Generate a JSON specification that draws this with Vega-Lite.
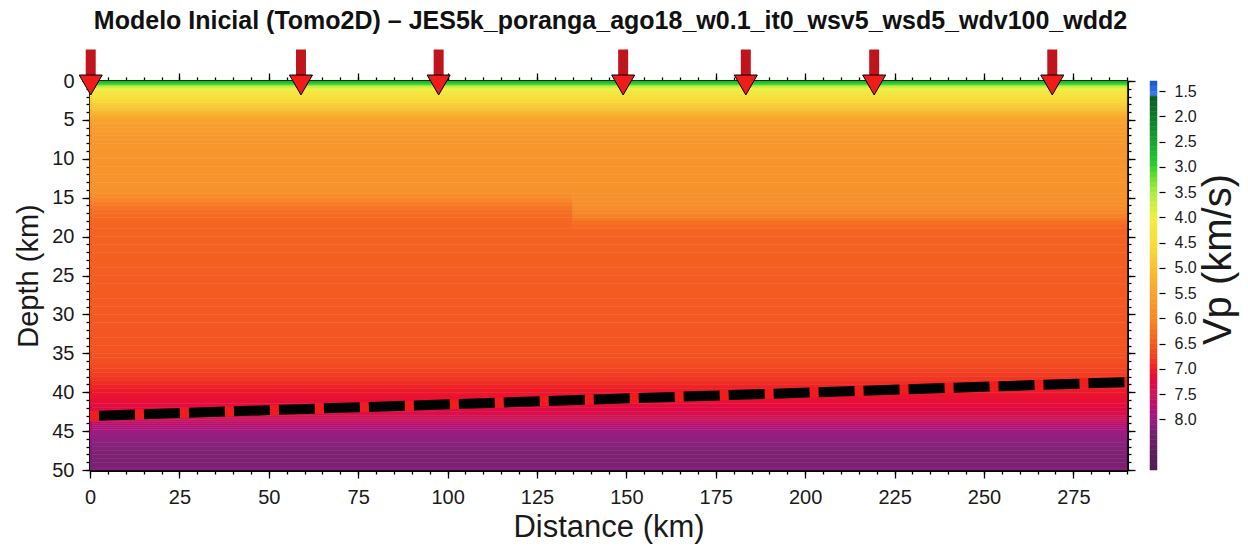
{
  "$schema": "https://vega.github.io/schema/vega-lite/v6.json",
  "padding": {"left": 14, "top": 8, "right": 5, "bottom": 5},
  "background": "white",
  "title": {
    "text": "Modelo Inicial (Tomo2D) – JES5k_poranga_ago18_w0.1_it0_wsv5_wsd5_wdv100_wdd2",
    "fontSize": 25,
    "fontWeight": "bold",
    "anchor": "middle",
    "frame": "bounds",
    "baseline": "alphabetic",
    "offset": -4,
    "dx": -16,
    "color": "#111111"
  },
  "config": {
    "font": "Liberation Sans",
    "view": {"stroke": null},
    "axis": {
      "grid": false,
      "zindex": 0,
      "domainColor": "black",
      "domainWidth": 3,
      "tickColor": "black",
      "tickWidth": 1.3,
      "labelColor": "#1a1a1a",
      "titleColor": "#1a1a1a",
      "titleFontWeight": "normal",
      "labelFlush": false,
      "labelOverlap": false,
      "labelBound": false
    }
  },
  "datasets": {
    "model": [
      {"x0": 0, "x1": 290, "z0": 0, "z1": 0.25, "vp": 2.7},
      {"x0": 0, "x1": 290, "z0": 0.25, "z1": 0.5, "vp": 3.0},
      {"x0": 0, "x1": 290, "z0": 0.5, "z1": 0.75, "vp": 3.4},
      {"x0": 0, "x1": 290, "z0": 0.75, "z1": 1, "vp": 3.8},
      {"x0": 0, "x1": 290, "z0": 1, "z1": 1.25, "vp": 4.05},
      {"x0": 0, "x1": 290, "z0": 1.25, "z1": 1.5, "vp": 4.2},
      {"x0": 0, "x1": 290, "z0": 1.5, "z1": 1.75, "vp": 4.3},
      {"x0": 0, "x1": 290, "z0": 1.75, "z1": 2, "vp": 4.38},
      {"x0": 0, "x1": 290, "z0": 2, "z1": 2.25, "vp": 4.46},
      {"x0": 0, "x1": 290, "z0": 2.25, "z1": 2.5, "vp": 4.53},
      {"x0": 0, "x1": 290, "z0": 2.5, "z1": 2.75, "vp": 4.61},
      {"x0": 0, "x1": 290, "z0": 2.75, "z1": 3, "vp": 4.7},
      {"x0": 0, "x1": 290, "z0": 3, "z1": 3.25, "vp": 4.8},
      {"x0": 0, "x1": 290, "z0": 3.25, "z1": 3.5, "vp": 4.9},
      {"x0": 0, "x1": 290, "z0": 3.5, "z1": 3.75, "vp": 5.0},
      {"x0": 0, "x1": 290, "z0": 3.75, "z1": 4, "vp": 5.1},
      {"x0": 0, "x1": 290, "z0": 4, "z1": 4.25, "vp": 5.2},
      {"x0": 0, "x1": 290, "z0": 4.25, "z1": 4.5, "vp": 5.28},
      {"x0": 0, "x1": 290, "z0": 4.5, "z1": 4.75, "vp": 5.36},
      {"x0": 0, "x1": 290, "z0": 4.75, "z1": 5, "vp": 5.43},
      {"x0": 0, "x1": 290, "z0": 5, "z1": 5.5, "vp": 5.5},
      {"x0": 0, "x1": 290, "z0": 5.5, "z1": 6, "vp": 5.56},
      {"x0": 0, "x1": 290, "z0": 6, "z1": 6.5, "vp": 5.61},
      {"x0": 0, "x1": 290, "z0": 6.5, "z1": 7, "vp": 5.65},
      {"x0": 0, "x1": 290, "z0": 7, "z1": 7.5, "vp": 5.68},
      {"x0": 0, "x1": 290, "z0": 7.5, "z1": 8, "vp": 5.7},
      {"x0": 0, "x1": 290, "z0": 8, "z1": 9, "vp": 5.72},
      {"x0": 0, "x1": 290, "z0": 9, "z1": 10, "vp": 5.74},
      {"x0": 0, "x1": 290, "z0": 10, "z1": 11, "vp": 5.76},
      {"x0": 0, "x1": 290, "z0": 11, "z1": 12, "vp": 5.77},
      {"x0": 0, "x1": 290, "z0": 12, "z1": 13, "vp": 5.78},
      {"x0": 0, "x1": 290, "z0": 13, "z1": 14, "vp": 5.8},
      {"x0": 0, "x1": 135, "z0": 14, "z1": 14.5, "vp": 5.84},
      {"x0": 135, "x1": 290, "z0": 14, "z1": 14.5, "vp": 5.82},
      {"x0": 0, "x1": 135, "z0": 14.5, "z1": 15, "vp": 5.9},
      {"x0": 135, "x1": 290, "z0": 14.5, "z1": 15, "vp": 5.83},
      {"x0": 0, "x1": 135, "z0": 15, "z1": 15.5, "vp": 6.0},
      {"x0": 135, "x1": 290, "z0": 15, "z1": 15.5, "vp": 5.85},
      {"x0": 0, "x1": 135, "z0": 15.5, "z1": 16, "vp": 6.12},
      {"x0": 135, "x1": 290, "z0": 15.5, "z1": 16, "vp": 5.87},
      {"x0": 0, "x1": 135, "z0": 16, "z1": 16.5, "vp": 6.22},
      {"x0": 135, "x1": 290, "z0": 16, "z1": 16.5, "vp": 5.9},
      {"x0": 0, "x1": 135, "z0": 16.5, "z1": 17, "vp": 6.29},
      {"x0": 135, "x1": 290, "z0": 16.5, "z1": 17, "vp": 5.96},
      {"x0": 0, "x1": 135, "z0": 17, "z1": 17.5, "vp": 6.33},
      {"x0": 135, "x1": 290, "z0": 17, "z1": 17.5, "vp": 6.06},
      {"x0": 0, "x1": 135, "z0": 17.5, "z1": 18, "vp": 6.36},
      {"x0": 135, "x1": 290, "z0": 17.5, "z1": 18, "vp": 6.18},
      {"x0": 0, "x1": 135, "z0": 18, "z1": 18.5, "vp": 6.38},
      {"x0": 135, "x1": 290, "z0": 18, "z1": 18.5, "vp": 6.28},
      {"x0": 0, "x1": 135, "z0": 18.5, "z1": 19, "vp": 6.4},
      {"x0": 135, "x1": 290, "z0": 18.5, "z1": 19, "vp": 6.35},
      {"x0": 0, "x1": 290, "z0": 19, "z1": 20, "vp": 6.41},
      {"x0": 0, "x1": 290, "z0": 20, "z1": 21, "vp": 6.42},
      {"x0": 0, "x1": 290, "z0": 21, "z1": 22, "vp": 6.43},
      {"x0": 0, "x1": 290, "z0": 22, "z1": 23, "vp": 6.44},
      {"x0": 0, "x1": 290, "z0": 23, "z1": 24, "vp": 6.45},
      {"x0": 0, "x1": 290, "z0": 24, "z1": 25, "vp": 6.46},
      {"x0": 0, "x1": 290, "z0": 25, "z1": 26, "vp": 6.47},
      {"x0": 0, "x1": 290, "z0": 26, "z1": 27, "vp": 6.48},
      {"x0": 0, "x1": 290, "z0": 27, "z1": 28, "vp": 6.49},
      {"x0": 0, "x1": 290, "z0": 28, "z1": 29, "vp": 6.5},
      {"x0": 0, "x1": 290, "z0": 29, "z1": 30, "vp": 6.51},
      {"x0": 0, "x1": 290, "z0": 30, "z1": 31, "vp": 6.52},
      {"x0": 0, "x1": 290, "z0": 31, "z1": 32, "vp": 6.53},
      {"x0": 0, "x1": 290, "z0": 32, "z1": 33, "vp": 6.54},
      {"x0": 0, "x1": 290, "z0": 33, "z1": 34, "vp": 6.55},
      {"x0": 0, "x1": 290, "z0": 34, "z1": 35, "vp": 6.57},
      {"x0": 0, "x1": 290, "z0": 35, "z1": 35.5, "vp": 6.59},
      {"x0": 0, "x1": 290, "z0": 35.5, "z1": 36, "vp": 6.61},
      {"x0": 0, "x1": 290, "z0": 36, "z1": 36.5, "vp": 6.64},
      {"x0": 0, "x1": 290, "z0": 36.5, "z1": 37, "vp": 6.68},
      {"x0": 0, "x1": 290, "z0": 37, "z1": 37.5, "vp": 6.73},
      {"x0": 0, "x1": 290, "z0": 37.5, "z1": 38, "vp": 6.79},
      {"x0": 0, "x1": 290, "z0": 38, "z1": 38.5, "vp": 6.85},
      {"x0": 0, "x1": 290, "z0": 38.5, "z1": 39, "vp": 6.91},
      {"x0": 0, "x1": 290, "z0": 39, "z1": 39.5, "vp": 6.97},
      {"x0": 0, "x1": 290, "z0": 39.5, "z1": 40, "vp": 7.02},
      {"x0": 0, "x1": 290, "z0": 40, "z1": 40.5, "vp": 7.07},
      {"x0": 0, "x1": 290, "z0": 40.5, "z1": 41, "vp": 7.11},
      {"x0": 0, "x1": 290, "z0": 41, "z1": 41.5, "vp": 7.15},
      {"x0": 0, "x1": 290, "z0": 41.5, "z1": 42, "vp": 7.2},
      {"x0": 0, "x1": 290, "z0": 42, "z1": 42.5, "vp": 7.27},
      {"x0": 0, "x1": 290, "z0": 42.5, "z1": 43, "vp": 7.35},
      {"x0": 0, "x1": 290, "z0": 43, "z1": 43.25, "vp": 7.42},
      {"x0": 0, "x1": 290, "z0": 43.25, "z1": 43.5, "vp": 7.49},
      {"x0": 0, "x1": 290, "z0": 43.5, "z1": 43.75, "vp": 7.56},
      {"x0": 0, "x1": 290, "z0": 43.75, "z1": 44, "vp": 7.63},
      {"x0": 0, "x1": 290, "z0": 44, "z1": 44.25, "vp": 7.7},
      {"x0": 0, "x1": 290, "z0": 44.25, "z1": 44.5, "vp": 7.77},
      {"x0": 0, "x1": 290, "z0": 44.5, "z1": 44.75, "vp": 7.83},
      {"x0": 0, "x1": 290, "z0": 44.75, "z1": 45, "vp": 7.88},
      {"x0": 0, "x1": 290, "z0": 45, "z1": 45.25, "vp": 7.93},
      {"x0": 0, "x1": 290, "z0": 45.25, "z1": 45.5, "vp": 7.97},
      {"x0": 0, "x1": 290, "z0": 45.5, "z1": 45.75, "vp": 8.01},
      {"x0": 0, "x1": 290, "z0": 45.75, "z1": 46, "vp": 8.04},
      {"x0": 0, "x1": 290, "z0": 46, "z1": 46.5, "vp": 8.08},
      {"x0": 0, "x1": 290, "z0": 46.5, "z1": 47, "vp": 8.13},
      {"x0": 0, "x1": 290, "z0": 47, "z1": 47.5, "vp": 8.17},
      {"x0": 0, "x1": 290, "z0": 47.5, "z1": 48, "vp": 8.21},
      {"x0": 0, "x1": 290, "z0": 48, "z1": 48.5, "vp": 8.24},
      {"x0": 0, "x1": 290, "z0": 48.5, "z1": 49, "vp": 8.26},
      {"x0": 0, "x1": 290, "z0": 49, "z1": 49.6, "vp": 8.28},
      {"x0": 0, "x1": 290, "z0": 49.6, "z1": 50, "vp": 8.15}
    ],
    "moho": [
      {"x": 0, "z": 43.06},
      {"x": 290, "z": 38.7}
    ],
    "stations": [
      {"x": 0.2, "z": 0},
      {"x": 59.0, "z": 0},
      {"x": 97.5, "z": 0},
      {"x": 149.1, "z": 0},
      {"x": 183.4, "z": 0},
      {"x": 219.3, "z": 0},
      {"x": 269.1, "z": 0}
    ],
    "palette": [
      {"v0": 1.3, "v1": 1.4, "vp": 1.35}, {"v0": 1.4, "v1": 1.5, "vp": 1.45},
      {"v0": 1.5, "v1": 1.6, "vp": 1.55}, {"v0": 1.6, "v1": 1.7, "vp": 1.65},
      {"v0": 1.7, "v1": 1.8, "vp": 1.75}, {"v0": 1.8, "v1": 1.9, "vp": 1.85},
      {"v0": 1.9, "v1": 2.0, "vp": 1.95}, {"v0": 2.0, "v1": 2.1, "vp": 2.05},
      {"v0": 2.1, "v1": 2.2, "vp": 2.15}, {"v0": 2.2, "v1": 2.3, "vp": 2.25},
      {"v0": 2.3, "v1": 2.4, "vp": 2.35}, {"v0": 2.4, "v1": 2.5, "vp": 2.45},
      {"v0": 2.5, "v1": 2.6, "vp": 2.55}, {"v0": 2.6, "v1": 2.7, "vp": 2.65},
      {"v0": 2.7, "v1": 2.8, "vp": 2.75}, {"v0": 2.8, "v1": 2.9, "vp": 2.85},
      {"v0": 2.9, "v1": 3.0, "vp": 2.95}, {"v0": 3.0, "v1": 3.1, "vp": 3.05},
      {"v0": 3.1, "v1": 3.2, "vp": 3.15}, {"v0": 3.2, "v1": 3.3, "vp": 3.25},
      {"v0": 3.3, "v1": 3.4, "vp": 3.35}, {"v0": 3.4, "v1": 3.5, "vp": 3.45},
      {"v0": 3.5, "v1": 3.6, "vp": 3.55}, {"v0": 3.6, "v1": 3.7, "vp": 3.65},
      {"v0": 3.7, "v1": 3.8, "vp": 3.75}, {"v0": 3.8, "v1": 3.9, "vp": 3.85},
      {"v0": 3.9, "v1": 4.0, "vp": 3.95}, {"v0": 4.0, "v1": 4.1, "vp": 4.05},
      {"v0": 4.1, "v1": 4.2, "vp": 4.15}, {"v0": 4.2, "v1": 4.3, "vp": 4.25},
      {"v0": 4.3, "v1": 4.4, "vp": 4.35}, {"v0": 4.4, "v1": 4.5, "vp": 4.45},
      {"v0": 4.5, "v1": 4.6, "vp": 4.55}, {"v0": 4.6, "v1": 4.7, "vp": 4.65},
      {"v0": 4.7, "v1": 4.8, "vp": 4.75}, {"v0": 4.8, "v1": 4.9, "vp": 4.85},
      {"v0": 4.9, "v1": 5.0, "vp": 4.95}, {"v0": 5.0, "v1": 5.1, "vp": 5.05},
      {"v0": 5.1, "v1": 5.2, "vp": 5.15}, {"v0": 5.2, "v1": 5.3, "vp": 5.25},
      {"v0": 5.3, "v1": 5.4, "vp": 5.35}, {"v0": 5.4, "v1": 5.5, "vp": 5.45},
      {"v0": 5.5, "v1": 5.6, "vp": 5.55}, {"v0": 5.6, "v1": 5.7, "vp": 5.65},
      {"v0": 5.7, "v1": 5.8, "vp": 5.75}, {"v0": 5.8, "v1": 5.9, "vp": 5.85},
      {"v0": 5.9, "v1": 6.0, "vp": 5.95}, {"v0": 6.0, "v1": 6.1, "vp": 6.05},
      {"v0": 6.1, "v1": 6.2, "vp": 6.15}, {"v0": 6.2, "v1": 6.3, "vp": 6.25},
      {"v0": 6.3, "v1": 6.4, "vp": 6.35}, {"v0": 6.4, "v1": 6.5, "vp": 6.45},
      {"v0": 6.5, "v1": 6.6, "vp": 6.55}, {"v0": 6.6, "v1": 6.7, "vp": 6.65},
      {"v0": 6.7, "v1": 6.8, "vp": 6.75}, {"v0": 6.8, "v1": 6.9, "vp": 6.85},
      {"v0": 6.9, "v1": 7.0, "vp": 6.95}, {"v0": 7.0, "v1": 7.1, "vp": 7.05},
      {"v0": 7.1, "v1": 7.2, "vp": 7.15}, {"v0": 7.2, "v1": 7.3, "vp": 7.25},
      {"v0": 7.3, "v1": 7.4, "vp": 7.35}, {"v0": 7.4, "v1": 7.5, "vp": 7.45},
      {"v0": 7.5, "v1": 7.6, "vp": 7.55}, {"v0": 7.6, "v1": 7.7, "vp": 7.65},
      {"v0": 7.7, "v1": 7.8, "vp": 7.75}, {"v0": 7.8, "v1": 7.9, "vp": 7.85},
      {"v0": 7.9, "v1": 8.0, "vp": 7.95}, {"v0": 8.0, "v1": 8.1, "vp": 8.05},
      {"v0": 8.1, "v1": 8.2, "vp": 8.15}, {"v0": 8.2, "v1": 8.3, "vp": 8.25},
      {"v0": 8.3, "v1": 8.4, "vp": 8.35}, {"v0": 8.4, "v1": 8.5, "vp": 8.45},
      {"v0": 8.5, "v1": 8.6, "vp": 8.55}, {"v0": 8.6, "v1": 8.7, "vp": 8.65},
      {"v0": 8.7, "v1": 8.8, "vp": 8.75}, {"v0": 8.8, "v1": 8.9, "vp": 8.85},
      {"v0": 8.9, "v1": 9.0, "vp": 8.95}
    ]
  },
  "hconcat": [
    {
      "width": 1037,
      "height": 389,
      "layer": [
        {
          "data": {"name": "model"},
          "mark": {"type": "rect", "strokeWidth": 0.5},
          "encoding": {
            "x": {
              "field": "x0", "type": "quantitative",
              "scale": {"domain": [0, 290], "nice": false, "zero": false},
              "axis": {
                "orient": "bottom",
                "values": [0, 25, 50, 75, 100, 125, 150, 175, 200, 225, 250, 275],
                "tickSize": 8, "labelFontSize": 20, "labelPadding": 9,
                "title": "Distance (km)", "titleFontSize": 31, "titlePadding": 5
              }
            },
            "x2": {"field": "x1"},
            "y": {
              "field": "z0", "type": "quantitative",
              "scale": {"domain": [0, 50], "reverse": true, "nice": false, "zero": false},
              "axis": {
                "orient": "left",
                "values": [0, 5, 10, 15, 20, 25, 30, 35, 40, 45, 50],
                "tickSize": 8, "labelFontSize": 20, "labelPadding": 8,
                "title": "Depth (km)", "titleFontSize": 29, "titlePadding": 8
              }
            },
            "y2": {"field": "z1"},
            "color": {
              "field": "vp", "type": "quantitative",
              "scale": {
                "domain": [9.0, 8.5, 8.0, 7.5, 7.0, 6.5, 6.0, 5.5, 5.0, 4.5, 4.0, 3.5, 3.0, 2.5, 2.0, 1.65, 1.55, 1.2],
                "range": ["#4e1e50", "#642060", "#962084", "#cc1a5a", "#ee1d24", "#f45a22", "#f6882a", "#f8a32f", "#f8c234", "#f6de3a", "#f0f040", "#a8ec48", "#2dd22d", "#1aa232", "#0f7a2c", "#0b5e26", "#3a7ae0", "#1a3fd0"],
                "nice": false, "zero": false
              },
              "legend": null
            },
            "stroke": {
              "field": "vp", "type": "quantitative",
              "scale": {
                "domain": [9.0, 8.5, 8.0, 7.5, 7.0, 6.5, 6.0, 5.5, 5.0, 4.5, 4.0, 3.5, 3.0, 2.5, 2.0, 1.65, 1.55, 1.2],
                "range": ["#4e1e50", "#642060", "#962084", "#cc1a5a", "#ee1d24", "#f45a22", "#f6882a", "#f8a32f", "#f8c234", "#f6de3a", "#f0f040", "#a8ec48", "#2dd22d", "#1aa232", "#0f7a2c", "#0b5e26", "#3a7ae0", "#1a3fd0"],
                "nice": false, "zero": false
              },
              "legend": null
            }
          }
        },
        {
          "data": {"name": "moho"},
          "mark": {"type": "line", "color": "#f21c1c", "strokeWidth": 10, "strokeCap": "butt"},
          "encoding": {
            "x": {
              "field": "x", "type": "quantitative",
              "scale": {"domain": [0, 290], "nice": false, "zero": false},
              "axis": {
                "orient": "bottom",
                "values": [0, 5, 10, 15, 20, 25, 30, 35, 40, 45, 50, 55, 60, 65, 70, 75, 80, 85, 90, 95, 100, 105, 110, 115, 120, 125, 130, 135, 140, 145, 150, 155, 160, 165, 170, 175, 180, 185, 190, 195, 200, 205, 210, 215, 220, 225, 230, 235, 240, 245, 250, 255, 260, 265, 270, 275, 280, 285, 290],
                "tickSize": 4, "labels": false, "domain": false, "title": null
              }
            },
            "y": {
              "field": "z", "type": "quantitative",
              "scale": {"domain": [0, 50], "reverse": true, "nice": false, "zero": false},
              "axis": {
                "orient": "left",
                "values": [0, 1, 2, 3, 4, 5, 6, 7, 8, 9, 10, 11, 12, 13, 14, 15, 16, 17, 18, 19, 20, 21, 22, 23, 24, 25, 26, 27, 28, 29, 30, 31, 32, 33, 34, 35, 36, 37, 38, 39, 40, 41, 42, 43, 44, 45, 46, 47, 48, 49, 50],
                "tickSize": 4, "labels": false, "domain": false, "title": null
              }
            }
          }
        },
        {
          "data": {"name": "moho"},
          "mark": {"type": "line", "color": "black", "strokeWidth": 10, "strokeCap": "butt", "strokeDash": [36, 9], "strokeDashOffset": 36},
          "encoding": {
            "x": {
              "field": "x", "type": "quantitative",
              "scale": {"domain": [0, 290], "nice": false, "zero": false},
              "axis": {
                "orient": "top",
                "values": [0, 25, 50, 75, 100, 125, 150, 175, 200, 225, 250, 275],
                "tickSize": 8, "labels": false, "domain": true, "title": null
              }
            },
            "y": {
              "field": "z", "type": "quantitative",
              "scale": {"domain": [0, 50], "reverse": true, "nice": false, "zero": false},
              "axis": {
                "orient": "right",
                "values": [0, 5, 10, 15, 20, 25, 30, 35, 40, 45, 50],
                "tickSize": 8, "labels": false, "domain": true, "title": null
              }
            }
          }
        },
        {
          "data": {"name": "stations"},
          "mark": {"type": "point", "filled": true, "opacity": 1, "color": "#c0151d", "shape": "M-0.185,-0.5L0.185,-0.5L0.185,0.5L-0.185,0.5Z", "size": 2916, "yOffset": -18},
          "encoding": {
            "x": {
              "field": "x", "type": "quantitative",
              "scale": {"domain": [0, 290], "nice": false, "zero": false},
              "axis": {
                "orient": "top",
                "values": [0, 5, 10, 15, 20, 25, 30, 35, 40, 45, 50, 55, 60, 65, 70, 75, 80, 85, 90, 95, 100, 105, 110, 115, 120, 125, 130, 135, 140, 145, 150, 155, 160, 165, 170, 175, 180, 185, 190, 195, 200, 205, 210, 215, 220, 225, 230, 235, 240, 245, 250, 255, 260, 265, 270, 275, 280, 285, 290],
                "tickSize": 4, "labels": false, "domain": false, "title": null
              }
            },
            "y": {
              "field": "z", "type": "quantitative",
              "scale": {"domain": [0, 50], "reverse": true, "nice": false, "zero": false},
              "axis": {
                "orient": "right",
                "values": [0, 1, 2, 3, 4, 5, 6, 7, 8, 9, 10, 11, 12, 13, 14, 15, 16, 17, 18, 19, 20, 21, 22, 23, 24, 25, 26, 27, 28, 29, 30, 31, 32, 33, 34, 35, 36, 37, 38, 39, 40, 41, 42, 43, 44, 45, 46, 47, 48, 49, 50],
                "tickSize": 4, "labels": false, "domain": false, "title": null
              }
            }
          }
        },
        {
          "data": {"name": "stations"},
          "mark": {"type": "point", "filled": true, "opacity": 1, "fill": "#f01c1c", "stroke": "black", "strokeWidth": 1, "shape": "triangle-down", "size": 530, "yOffset": 4},
          "encoding": {
            "x": {
              "field": "x", "type": "quantitative",
              "scale": {"domain": [0, 290], "nice": false, "zero": false},
              "axis": null
            },
            "y": {
              "field": "z", "type": "quantitative",
              "scale": {"domain": [0, 50], "reverse": true, "nice": false, "zero": false},
              "axis": null
            }
          }
        }
      ],
      "resolve": {"axis": {"x": "independent", "y": "independent"}}
    },
    {
      "width": 7,
      "height": 389,
      "data": {"name": "palette"},
      "mark": {"type": "rect", "strokeWidth": 0.5},
      "encoding": {
        "y": {
          "field": "v0", "type": "quantitative",
          "scale": {"domain": [1.3, 9.0], "reverse": true, "nice": false, "zero": false},
          "axis": {
            "orient": "right",
            "values": [1.5, 2.0, 2.5, 3.0, 3.5, 4.0, 4.5, 5.0, 5.5, 6.0, 6.5, 7.0, 7.5, 8.0],
            "format": ".1f",
            "offset": 2,
            "tickSize": 6,
            "tickWidth": 1.2,
            "domain": false,
            "labelFontSize": 16,
            "labelPadding": 9,
            "title": "Vp (km/s)",
            "titleAngle": 270,
            "titleBaseline": "top",
            "titleFontSize": 40,
            "titlePadding": 2,
            "titleY": 178
          }
        },
        "y2": {"field": "v1"},
        "color": {
          "field": "vp", "type": "quantitative",
          "scale": {
            "domain": [9.0, 8.5, 8.0, 7.5, 7.0, 6.5, 6.0, 5.5, 5.0, 4.5, 4.0, 3.5, 3.0, 2.5, 2.0, 1.65, 1.55, 1.2],
            "range": ["#4e1e50", "#642060", "#962084", "#cc1a5a", "#ee1d24", "#f45a22", "#f6882a", "#f8a32f", "#f8c234", "#f6de3a", "#f0f040", "#a8ec48", "#2dd22d", "#1aa232", "#0f7a2c", "#0b5e26", "#3a7ae0", "#1a3fd0"],
            "nice": false, "zero": false
          },
          "legend": null
        },
        "stroke": {
          "field": "vp", "type": "quantitative",
          "scale": {
            "domain": [9.0, 8.5, 8.0, 7.5, 7.0, 6.5, 6.0, 5.5, 5.0, 4.5, 4.0, 3.5, 3.0, 2.5, 2.0, 1.65, 1.55, 1.2],
            "range": ["#4e1e50", "#642060", "#962084", "#cc1a5a", "#ee1d24", "#f45a22", "#f6882a", "#f8a32f", "#f8c234", "#f6de3a", "#f0f040", "#a8ec48", "#2dd22d", "#1aa232", "#0f7a2c", "#0b5e26", "#3a7ae0", "#1a3fd0"],
            "nice": false, "zero": false
          },
          "legend": null
        }
      }
    }
  ],
  "spacing": 23,
  "bounds": "flush"
}
